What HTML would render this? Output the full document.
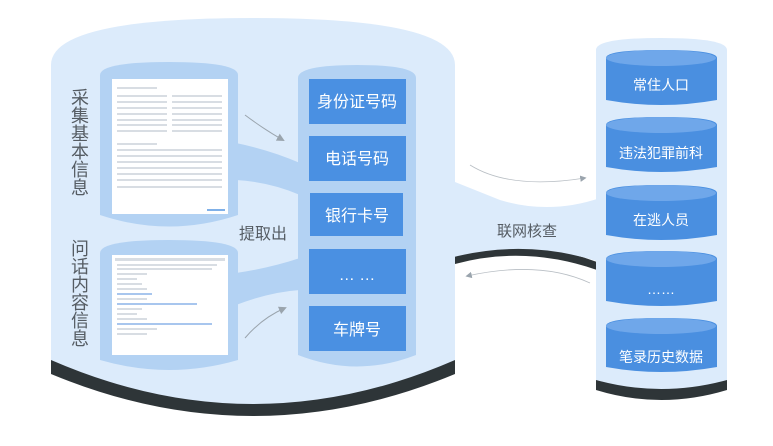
<!DOCTYPE html>
<html><head><meta charset="utf-8"><style>
html,body{margin:0;padding:0;background:#fff;width:773px;height:446px;overflow:hidden}
svg{display:block}
text{font-family:"Liberation Sans","Noto Sans CJK SC",sans-serif}
</style></head><body>
<svg width="773" height="446" viewBox="0 0 773 446">
<defs>
<marker id="ah" markerWidth="8" markerHeight="8" refX="6" refY="4" orient="auto"><path d="M0,0 L8,4 L0,8 z" fill="#9aa4ad"/></marker>
</defs>
<!-- big cylinder dark rim -->
<path d="M51,360 L51,374 Q253,458 455,374 L455,360 Z" fill="#2e3538"/>
<!-- bridge dark band -->
<path d="M455,255 Q525,235 597,262 L597,270 Q525,245 455,264 Z" fill="#2e3538"/>
<!-- big cylinder body -->
<path d="M51,65 Q51,18 253,18 Q455,18 455,65 L455,360 Q253,448 51,360 Z" fill="#dcebfb"/>
<!-- bridge light -->
<path d="M450,180 Q470,188 500,200 Q550,215 600,198 L600,262 Q525,238 450,258 Z" fill="#dcebfb"/>
<!-- right cylinder -->
<path d="M596,380 L596,390 Q661,410 727,390 L727,380 Z" fill="#2e3538"/>
<path d="M596,380 Q661,402 727,380 Z" fill="#2e3538"/>
<path d="M596,50 Q596,38 661,38 Q727,38 727,50 L727,380 Q661,398 596,380 Z" fill="#dcebfb"/>
<!-- inner left cylinders -->
<path d="M100,75 Q100,62 169,62 Q238,62 238,75 L238,215 Q169,238 100,215 Z" fill="#b3d2f3"/>
<path d="M100,253 Q100,240 169,240 Q238,240 238,253 L238,360 Q169,380 100,360 Z" fill="#b3d2f3"/>
<!-- funnels -->
<path d="M236,143 Q270,150 300,163 L300,195 Q270,182 236,180 Z" fill="#b3d2f3"/>
<path d="M236,273 Q270,268 300,258 L300,290 Q270,292 236,305 Z" fill="#b3d2f3"/>
<!-- center cylinder -->
<path d="M298,78 Q298,65 357,65 Q416,65 416,78 L416,355 Q357,378 298,355 Z" fill="#b3d2f3"/>
<!-- boxes -->
<g fill="#4a90e2">
<rect x="309" y="79" width="97" height="45"/>
<rect x="309" y="136" width="97" height="45"/>
<rect x="310" y="193" width="93" height="43"/>
<rect x="309" y="249" width="97" height="45"/>
<rect x="309" y="306" width="97" height="45"/>
</g>
<g fill="#fff" font-size="16" text-anchor="middle">
<text x="357" y="107">身份证号码</text>
<text x="357" y="164">电话号码</text>
<text x="357" y="221">银行卡号</text>
<text x="357" y="280">… …</text>
<text x="357" y="335">车牌号</text>
</g>
<!-- forms -->
<rect x="112" y="79" width="116" height="135" fill="#fff"/>
<g fill="#d8dde3">
<rect x="117" y="87" width="40" height="2"/><rect x="117" y="95" width="50" height="2"/><rect x="172" y="95" width="50" height="2"/>
<rect x="117" y="101" width="50" height="2"/><rect x="172" y="101" width="50" height="2"/>
<rect x="117" y="107" width="50" height="2"/><rect x="172" y="107" width="50" height="2"/>
<rect x="117" y="113" width="50" height="2"/><rect x="172" y="113" width="50" height="2"/>
<rect x="117" y="119" width="50" height="2"/><rect x="172" y="119" width="50" height="2"/>
<rect x="117" y="124" width="50" height="2"/><rect x="172" y="124" width="50" height="2"/>
<rect x="117" y="130" width="50" height="2"/><rect x="172" y="130" width="50" height="2"/>
<rect x="117" y="143" width="40" height="2"/><rect x="117" y="149" width="105" height="2"/>
<rect x="117" y="155" width="105" height="2"/><rect x="117" y="161" width="105" height="2"/>
<rect x="117" y="167" width="105" height="2"/><rect x="117" y="173" width="105" height="2"/>
<rect x="117" y="179" width="105" height="2"/><rect x="117" y="186" width="105" height="2"/>
<rect x="207" y="209" width="18" height="2" fill="#7fb0e8"/>
</g>
<rect x="112" y="255" width="116" height="100" fill="#fff"/>
<g fill="#d8dde3">
<rect x="115" y="258" width="110" height="3"/>
<rect x="117" y="264" width="100" height="2"/><rect x="117" y="268" width="95" height="2"/>
<rect x="117" y="273" width="30" height="2"/><rect x="117" y="278" width="20" height="2"/>
<rect x="117" y="283" width="25" height="2"/><rect x="117" y="288" width="30" height="2"/>
<rect x="117" y="293" width="35" height="2" fill="#a8c6ee"/><rect x="117" y="298" width="30" height="2"/>
<rect x="117" y="303" width="80" height="2" fill="#a8c6ee"/><rect x="117" y="308" width="25" height="2"/>
<rect x="117" y="313" width="20" height="2"/><rect x="117" y="318" width="30" height="2"/>
<rect x="117" y="323" width="95" height="2" fill="#a8c6ee"/><rect x="117" y="328" width="40" height="2"/>
<rect x="117" y="333" width="30" height="2"/>
</g>
<!-- arrows left -->
<path d="M245,115 Q265,130 283,140" fill="none" stroke="#9aa4ad" stroke-width="1" marker-end="url(#ah)"/>
<path d="M245,338 Q262,318 285,308" fill="none" stroke="#9aa4ad" stroke-width="1" marker-end="url(#ah)"/>
<!-- arrows right -->
<path d="M470,165 Q510,190 585,178" fill="none" stroke="#b8bec4" stroke-width="0.8" marker-end="url(#ah)"/>
<path d="M590,283 Q540,260 467,276" fill="none" stroke="#b8bec4" stroke-width="0.8" marker-end="url(#ah)"/>
<!-- labels -->
<g fill="#555c63" font-size="18" text-anchor="middle">
<text x="80" y="104">采</text><text x="80" y="122">集</text><text x="80" y="140">基</text><text x="80" y="158">本</text><text x="80" y="176">信</text><text x="80" y="194">息</text>
<text x="80" y="255">问</text><text x="80" y="273">话</text><text x="80" y="291">内</text><text x="80" y="309">容</text><text x="80" y="327">信</text><text x="80" y="345">息</text>
</g>
<text x="263" y="239" fill="#555c63" font-size="16" text-anchor="middle">提取出</text>
<text x="527" y="236" fill="#555c63" font-size="15" text-anchor="middle">联网核查</text>
<!-- right small cylinders -->
<g>
<path d="M606,58 Q606,50 661,50 Q717,50 717,58 L717,100 Q661,110 606,100 Z" fill="#4a8fe0"/>
<ellipse cx="661" cy="58" rx="55" ry="8" fill="#6fa7ea"/>
<path d="M606,125 Q606,117 661,117 Q717,117 717,125 L717,167 Q661,177 606,167 Z" fill="#4a8fe0"/>
<ellipse cx="661" cy="125" rx="55" ry="8" fill="#6fa7ea"/>
<path d="M606,193 Q606,185 661,185 Q717,185 717,193 L717,235 Q661,245 606,235 Z" fill="#4a8fe0"/>
<ellipse cx="661" cy="193" rx="55" ry="8" fill="#6fa7ea"/>
<path d="M606,259 Q606,251 661,251 Q717,251 717,259 L717,301 Q661,311 606,301 Z" fill="#4a8fe0"/>
<ellipse cx="661" cy="259" rx="55" ry="8" fill="#6fa7ea"/>
<path d="M606,326 Q606,318 661,318 Q717,318 717,326 L717,367 Q661,377 606,367 Z" fill="#4a8fe0"/>
<ellipse cx="661" cy="326" rx="55" ry="8" fill="#6fa7ea"/>
</g>
<g fill="#fff" font-size="14" text-anchor="middle">
<text x="661" y="90">常住人口</text>
<text x="661" y="158">违法犯罪前科</text>
<text x="661" y="225">在逃人员</text>
<text x="661" y="294">……</text>
<text x="661" y="362">笔录历史数据</text>
</g>
</svg>
</body></html>
